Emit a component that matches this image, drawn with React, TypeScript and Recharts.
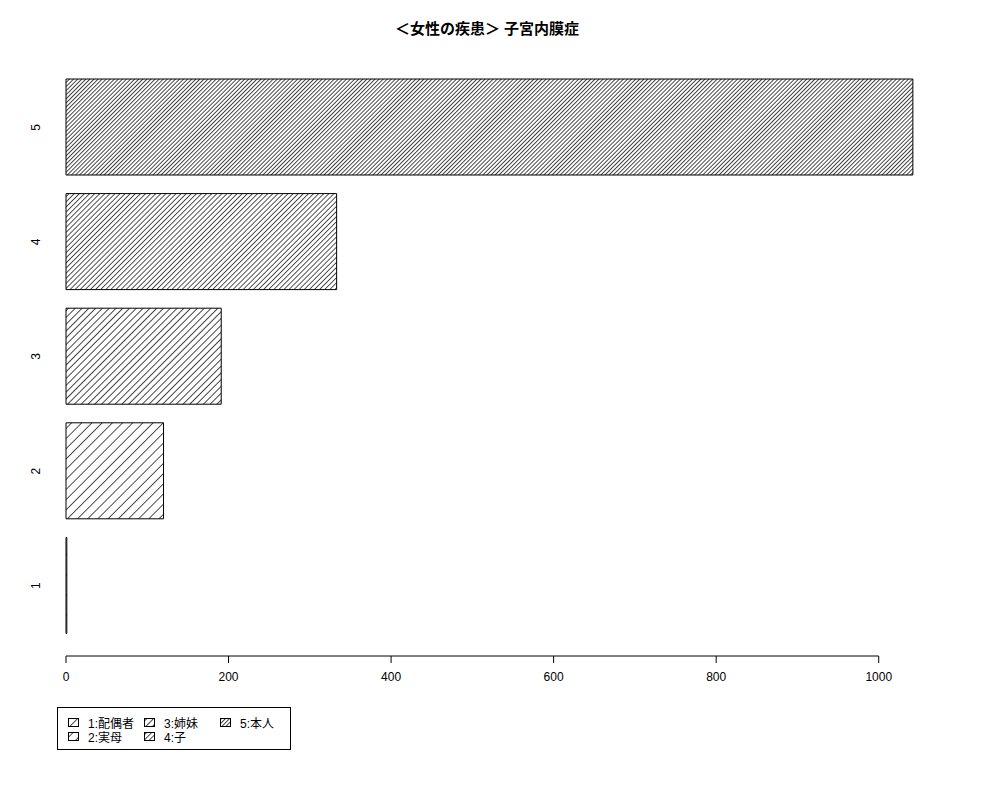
import React from 'react';
import { BarChart, Bar, XAxis, YAxis, Cell } from 'recharts';

const title = '＜女性の疾患＞ 子宮内膜症';
const categories = ['1', '2', '3', '4', '5'];
const legendLabels = ['1:配偶者', '2:実母', '3:姉妹', '4:子', '5:本人'];
const counts = [1, 120, 191, 333, 1042];
// hatch density in lines per inch, like R's density=
const densities = [5, 10, 15, 20, 25];
const xTicks = [0, 200, 400, 600, 800, 1000];

const data = categories.map((name, i) => ({ name, value: counts[i] }));

const FONT = '"Liberation Sans", Arial, sans-serif';
const JP_FONT = '"Liberation Sans", "Noto Sans CJK JP", sans-serif';
const PLOT_LEFT = 66; // margin.left + YAxis width

const hatchPatterns = (prefix: string) =>
  densities.map((d, i) => {
    const gap = 72 / d;
    return (
      <pattern
        key={i}
        id={`${prefix}-${i}`}
        patternUnits="userSpaceOnUse"
        width={gap}
        height={10}
        patternTransform="rotate(45)"
      >
        <rect width={gap} height={10} fill="#fff" />
        <line
          x1={gap / 2}
          y1={-1}
          x2={gap / 2}
          y2={11}
          stroke="#000"
          strokeWidth={0.75}
          shapeRendering="crispEdges"
        />
      </pattern>
    );
  });

const YTick = (props: any) => {
  const { y, payload } = props;
  return (
    <text
      x={40}
      y={y}
      transform={`rotate(-90 40 ${y})`}
      textAnchor="middle"
      fontSize={12}
      fontFamily={FONT}
      fill="#000"
    >
      {payload.value}
    </text>
  );
};

// R style axis: line only spans the first to the last tick
const XTick = (props: any) => {
  const { x, y, payload } = props;
  const axisY = y - 16;
  const last = payload.value === xTicks[xTicks.length - 1];
  return (
    <g>
      {last && <line x1={PLOT_LEFT} y1={axisY} x2={x} y2={axisY} stroke="#000" />}
      <line x1={x} y1={axisY} x2={x} y2={axisY + 7} stroke="#000" />
      <text x={x} y={y} dy="0.71em" textAnchor="middle" fontSize={12} fontFamily={FONT} fill="#000">
        {payload.value}
      </text>
    </g>
  );
};

const ChartLegend = () => (
  <div
    style={{
      position: 'absolute',
      left: 57,
      top: 707,
      width: 234,
      height: 43,
      border: '1px solid #000',
      boxSizing: 'border-box',
      fontFamily: JP_FONT,
      fontSize: 12,
    }}
  >
    <svg width={0} height={0} style={{ position: 'absolute' }}>
      <defs>{hatchPatterns('leg')}</defs>
    </svg>
    {legendLabels.map((label, i) => {
      const col = Math.floor(i / 2);
      const row = i % 2;
      return (
        <div
          key={label}
          style={{
            position: 'absolute',
            left: 10 + col * 76,
            top: 7 + row * 14,
            height: 15,
            display: 'flex',
            alignItems: 'center',
            whiteSpace: 'nowrap',
          }}
        >
          <svg width={12} height={9} style={{ marginRight: 8 }}>
            <rect x={0.5} y={0.5} width={10} height={8} fill={`url(#leg-${i})`} stroke="#000" />
          </svg>
          <span>{label}</span>
        </div>
      );
    })}
  </div>
);

export default function App() {
  return (
    <div style={{ position: 'absolute', left: 0, top: 0, width: 1000, height: 800, background: '#fff' }}>
      <div
        style={{
          position: 'absolute',
          left: 0,
          top: 19,
          width: 974,
          textAlign: 'center',
          fontFamily: JP_FONT,
          fontWeight: 'bold',
          fontSize: 15,
          lineHeight: '20px',
        }}
      >
        {title}
      </div>
      <BarChart
        width={1000}
        height={800}
        data={data}
        layout="vertical"
        margin={{ top: 57, right: 40, bottom: 114, left: 0 }}
      >
        <defs>{hatchPatterns('bar')}</defs>
        <XAxis
          type="number"
          domain={[0, 1100]}
          ticks={xTicks}
          height={30}
          axisLine={false}
          tickLine={false}
          tickSize={7}
          tickMargin={9}
          tick={<XTick />}
        />
        <YAxis
          type="category"
          dataKey="name"
          reversed
          width={66}
          axisLine={false}
          tickLine={false}
          padding={{ top: 13, bottom: 13 }}
          tick={<YTick />}
        />
        <Bar dataKey="value" barSize={96} stroke="#000" strokeWidth={1} isAnimationActive={false}>
          {data.map((d, i) => (
            <Cell key={d.name} fill={`url(#bar-${i})`} />
          ))}
        </Bar>
      </BarChart>
      <ChartLegend />
    </div>
  );
}
